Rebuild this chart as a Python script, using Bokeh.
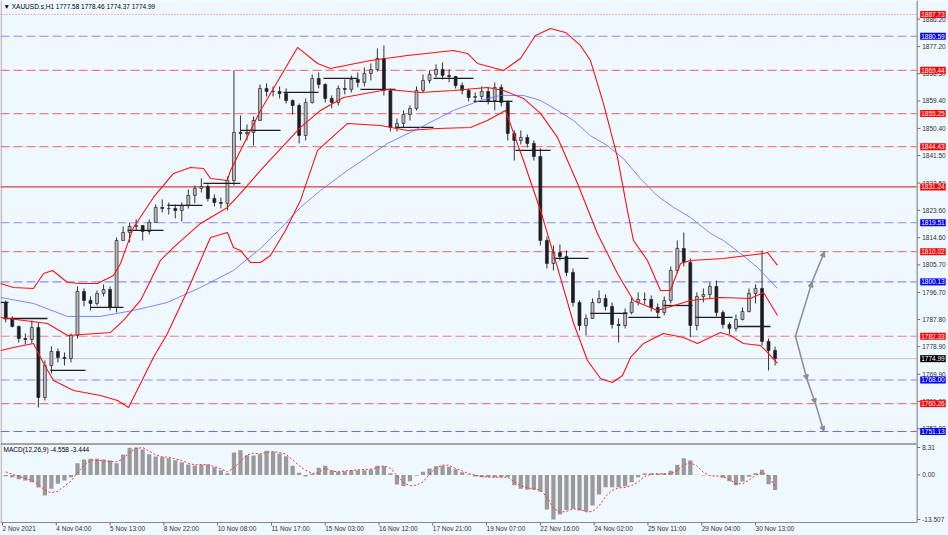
import math
from bokeh.plotting import figure
from bokeh.models import Range1d, Label, Arrow, NormalHead, ColumnDataSource
from bokeh.layouts import column
from bokeh.embed import file_html
from bokeh.resources import INLINE
from bokeh.core.properties import value

# ---------------- data ----------------
HOURS_PER_BAR = 4
first_open = 1793.40
close = [
    1788.16, 1785.53, 1781.60, 1781.27, 1785.21, 1762.28, 1772.76, 1777.34, 1775.38, 1775.05,
    1782.58, 1797.00, 1794.05, 1793.07, 1796.35, 1797.66, 1791.76, 1813.70, 1816.33, 1818.29,
    1818.62, 1816.65, 1819.60, 1824.51, 1824.19, 1824.19, 1823.53, 1825.17, 1828.45, 1830.74,
    1831.39, 1827.46, 1826.15, 1825.83, 1833.36, 1849.08, 1848.76, 1849.08, 1853.01, 1863.50,
    1862.51, 1862.51, 1861.86, 1859.56, 1857.92, 1848.10, 1858.91, 1866.77, 1864.81, 1860.22,
    1858.91, 1863.50, 1863.17, 1866.45, 1865.47, 1868.42, 1869.72, 1873.33, 1862.84, 1850.72,
    1852.03, 1854.97, 1856.94, 1862.84, 1866.12, 1868.08, 1869.72, 1867.76, 1867.43, 1864.48,
    1862.84, 1860.54, 1860.87, 1862.51, 1859.56, 1863.82, 1858.91, 1848.76, 1846.46, 1847.45,
    1845.49, 1841.23, 1813.70, 1806.17, 1809.78, 1808.47, 1803.23, 1793.40, 1785.86, 1788.16,
    1793.40, 1794.70, 1792.09, 1786.19, 1785.86, 1790.12, 1793.40, 1794.38, 1794.38, 1791.76,
    1790.12, 1794.05, 1803.88, 1811.09, 1806.50, 1785.86, 1795.36, 1796.02, 1798.64, 1790.12,
    1786.19, 1784.88, 1787.83, 1790.45, 1796.35, 1797.99, 1780.62, 1777.67, 1774.99]
high = [
    1794.05, 1788.81, 1785.86, 1783.24, 1787.50, 1786.84, 1774.40, 1778.98, 1778.33, 1777.01,
    1783.24, 1798.64, 1797.99, 1795.36, 1797.33, 1799.30, 1798.64, 1814.68, 1818.29, 1819.60,
    1820.59, 1818.62, 1820.58, 1825.50, 1827.14, 1826.15, 1825.50, 1826.15, 1830.41, 1831.72,
    1834.02, 1832.05, 1828.77, 1827.79, 1834.67, 1869.39, 1854.65, 1851.70, 1854.32, 1864.81,
    1865.14, 1864.15, 1864.15, 1863.50, 1859.89, 1858.58, 1860.22, 1868.08, 1868.74, 1865.14,
    1861.20, 1864.48, 1866.45, 1867.76, 1868.74, 1870.38, 1871.68, 1876.60, 1877.58, 1863.50,
    1853.66, 1856.29, 1857.92, 1864.15, 1868.08, 1869.39, 1871.38, 1872.00, 1869.72, 1867.43,
    1865.47, 1863.50, 1862.18, 1864.15, 1863.82, 1865.47, 1864.81, 1859.56, 1849.74, 1849.74,
    1848.43, 1846.46, 1843.84, 1815.01, 1812.06, 1812.39, 1810.43, 1804.53, 1794.05, 1789.47,
    1794.70, 1797.33, 1796.02, 1793.40, 1788.16, 1791.43, 1795.03, 1796.68, 1796.68, 1795.69,
    1793.07, 1795.36, 1805.19, 1813.70, 1816.33, 1807.81, 1796.68, 1797.99, 1799.95, 1800.60,
    1790.80, 1786.84, 1789.47, 1791.76, 1798.00, 1799.30, 1810.43, 1781.60, 1778.98]
low = [
    1786.84, 1785.21, 1780.29, 1779.64, 1779.97, 1759.01, 1761.30, 1770.14, 1773.74, 1772.76,
    1773.74, 1781.60, 1792.09, 1790.78, 1792.41, 1795.36, 1790.78, 1790.12, 1813.70, 1813.05,
    1816.98, 1813.70, 1815.67, 1819.60, 1822.88, 1822.22, 1820.91, 1819.93, 1824.19, 1825.83,
    1829.43, 1826.48, 1824.84, 1824.19, 1823.53, 1831.72, 1846.46, 1846.46, 1844.83, 1853.01,
    1860.87, 1860.87, 1860.22, 1858.58, 1855.00, 1845.49, 1846.46, 1858.50, 1863.50, 1858.91,
    1856.94, 1857.92, 1861.53, 1862.18, 1863.82, 1864.15, 1866.12, 1869.06, 1861.20, 1849.41,
    1849.41, 1850.72, 1853.01, 1856.29, 1862.18, 1865.14, 1867.09, 1866.45, 1865.47, 1863.50,
    1861.53, 1859.23, 1858.91, 1859.89, 1858.25, 1856.29, 1857.60, 1846.46, 1839.91, 1845.16,
    1844.18, 1839.91, 1812.06, 1804.53, 1803.88, 1807.15, 1801.92, 1792.09, 1784.22, 1782.58,
    1788.16, 1793.07, 1790.78, 1784.88, 1780.29, 1784.88, 1789.47, 1792.41, 1792.74, 1790.45,
    1788.16, 1789.14, 1793.07, 1802.89, 1805.19, 1782.00, 1784.22, 1793.40, 1794.70, 1788.81,
    1784.88, 1782.91, 1783.89, 1787.50, 1790.12, 1793.07, 1779.31, 1771.12, 1772.76]

macd_hist = [
    -0.38, -0.79, -1.29, -1.70, -2.20, -3.82, -6.24, -4.22, -2.71, -1.70,
    -0.69, 3.56, 4.67, 4.87, 4.87, 4.67, 4.36, 3.56, 6.18, 8.20,
    8.31, 7.70, 6.28, 5.58, 5.37, 5.07, 4.46, 3.86, 3.15, 2.85,
    3.05, 3.15, 2.34, 1.43, 0.53, 6.79, 7.49, 5.98, 5.88, 6.28,
    7.29, 6.99, 6.48, 5.68, 2.75, 0.63, -0.48, 0.32, 2.14, 2.75,
    1.43, 0.93, 1.13, 1.43, 1.43, 1.43, 1.64, 2.75, 2.65, 0.53,
    -2.91, -3.41, -1.90, -0.28, 0.93, 1.94, 2.65, 2.75, 2.44, 1.74,
    0.83, 0.12, -0.48, -0.69, -0.69, -0.69, -0.69, -0.69, -3.11, -4.22,
    -4.53, -4.53, -5.13, -10.48, -13.50, -12.00, -10.69, -10.28, -10.79, -11.09,
    -9.27, -5.94, -3.72, -3.72, -3.72, -3.41, -2.20, -0.69, 0.42, 0.53,
    0.42, 0.53, 1.23, 3.05, 5.07, 4.36, 0.02, -0.18, -0.08, -0.08,
    -0.89, -1.90, -3.11, -2.00, -0.59, 0.53, 1.54, -2.81, -4.558]
macd_signal = [
    0.93, 0.22, -0.38, -1.09, -1.70, -2.81, -4.73, -5.43, -4.93, -3.41,
    -1.90, 0.73, 2.85, 4.46, 4.46, 4.26, 4.06, 3.96, 4.87, 6.79,
    8.00, 8.30, 7.19, 6.08, 5.47, 5.37, 4.87, 4.36, 3.56, 3.05,
    3.15, 3.05, 2.55, 1.84, 0.93, 2.14, 4.06, 6.08, 6.59, 6.38,
    6.79, 7.09, 6.79, 6.28, 4.57, 2.75, 1.43, 0.42, 0.63, 2.14,
    1.13, 0.93, 1.23, 1.33, 1.54, 1.64, 1.74, 2.24, 2.75, 2.04,
    -0.18, -2.30, -3.31, -3.11, -2.10, 0.22, 2.14, 2.95, 2.95, 1.94,
    1.23, 0.42, -0.08, -0.48, -0.69, -0.69, -0.69, -0.69, -2.10, -3.31,
    -3.92, -4.22, -4.53, -6.75, -10.08, -11.29, -11.09, -10.28, -10.38, -11.19,
    -11.09, -9.37, -6.55, -4.73, -3.92, -3.82, -3.21, -2.20, -0.48, 0.22,
    0.32, 0.32, 0.32, 1.33, 3.05, 3.66, 2.75, 0.83, -0.28, -0.38,
    -0.38, -1.49, -2.61, -2.71, -1.60, -0.08, 0.73, -0.28, -3.444]

# Bollinger band lines and moving average (x in hourly bars)
upper_x = [-1.2, 6.7, 19.0, 25.2, 30.7, 39.9, 47.9, 58.3, 68.1, 72.4, 80.4, 92.6, 104.9, 115.3,
           123.3, 127.6, 138.0, 139.9, 158.3, 181.0, 193.3, 201.2, 225.8, 248.5, 276.7, 285.3,
           291.4, 307.4, 317.8, 327.0, 336.2, 345.4, 354.6, 360.7, 368.7, 377.3, 383.4, 387.1,
           395.7, 403.7, 409.8, 416.0, 422.1, 442.3, 466.9, 469.3, 475.5]
upper_y = [1799.62, 1798.31, 1797.99, 1802.90, 1803.88, 1799.95, 1799.62, 1799.62, 1802.24,
           1806.17, 1817.97, 1827.79, 1835.65, 1837.62, 1837.29, 1834.02, 1833.36, 1836.64,
           1856.29, 1876.93, 1871.68, 1870.05, 1872.67, 1874.31, 1875.94, 1874.96, 1871.68,
           1869.39, 1873.32, 1880.86, 1883.15, 1881.84, 1877.58, 1872.67, 1858.58, 1840.89,
           1823.53, 1813.70, 1807.15, 1797.33, 1797.33, 1806.17, 1807.15, 1807.81, 1809.45,
           1809.78, 1805.52]
mid_x = [-1.2, 27.6, 39.9, 66.3, 74.2, 84.7, 96.9, 104.9, 121.5, 138.0, 146.0, 158.3, 182.8,
         195.1, 209.2, 236.2, 256.4, 276.7, 297.5, 307.4, 319.6, 330.1, 340.5, 352.8, 365.0,
         377.3, 387.1, 401.8, 408.0, 422.1, 440.5, 458.9, 466.9, 475.5]
mid_y = [1788.49, 1786.52, 1782.59, 1783.57, 1787.50, 1794.05, 1807.15, 1811.42, 1819.28,
         1824.52, 1829.10, 1836.64, 1850.72, 1856.29, 1860.55, 1863.17, 1862.19, 1862.84,
         1863.82, 1862.84, 1860.22, 1855.31, 1847.45, 1832.38, 1815.96, 1802.90, 1794.05,
         1790.78, 1791.76, 1794.05, 1795.03, 1794.70, 1796.67, 1789.14]
lower_x = [-1.2, 6.7, 19.0, 25.2, 31.3, 43.6, 60.1, 70.6, 77.3, 84.7, 92.6, 101.2, 113.5,
           121.5, 127.6, 138.0, 141.7, 146.0, 152.1, 158.3, 164.4, 173.6, 182.8, 193.3, 211.7,
           231.9, 248.5, 266.9, 287.1, 297.5, 308.6, 319.6, 330.1, 340.5, 350.3, 358.9, 366.9,
           374.2, 380.4, 385.3, 393.3, 405.5, 417.8, 426.4, 440.5, 446.6, 454.6, 465.0, 469.3,
           475.5]
lower_y = [1777.68, 1778.66, 1779.97, 1773.42, 1767.85, 1764.57, 1762.94, 1761.30, 1759.01,
           1766.87, 1775.37, 1783.24, 1797.33, 1807.15, 1814.69, 1816.33, 1811.41, 1810.43,
           1806.50, 1806.50, 1808.79, 1816.98, 1826.81, 1843.19, 1852.03, 1851.38, 1849.74,
           1850.39, 1850.72, 1853.01, 1856.29, 1839.91, 1823.53, 1804.86, 1786.66, 1774.40,
           1768.50, 1767.19, 1769.49, 1775.37, 1779.96, 1783.24, 1781.93, 1779.96, 1783.57,
           1782.58, 1779.96, 1779.31, 1777.03, 1773.42]
ma_x = [-1.2, 19.0, 39.9, 60.1, 80.4, 101.2, 121.5, 141.7, 158.3, 170.6, 182.8, 195.1, 211.7,
        236.2, 256.4, 276.7, 293.3, 305.5, 319.6, 330.1, 340.5, 350.3, 360.7, 371.2, 381.0,
        391.4, 401.8, 411.7, 422.1, 434.4, 442.3, 452.8, 463.2, 475.5]
ma_y = [1795.04, 1793.07, 1788.81, 1788.81, 1790.78, 1793.40, 1798.31, 1803.88, 1811.09,
        1817.64, 1824.52, 1830.09, 1836.64, 1845.48, 1850.72, 1856.29, 1859.56, 1861.20,
        1861.20, 1859.56, 1856.29, 1853.01, 1848.03, 1844.76, 1840.50, 1833.95, 1828.30,
        1824.52, 1821.24, 1816.00, 1813.70, 1809.45, 1804.86, 1797.99]

# daily open segments
day_start = [-1.2, 0.6, 29.4, 54.0, 76.7, 101.2, 123.3, 146.0, 172.4, 196.9, 219.6, 241.1,
             264.4, 289.0, 314.7, 338.0, 360.7, 384.0, 405.5, 425.2, 450.9]
day_end = [3.7, 27.6, 50.9, 74.2, 98.8, 122.7, 146.0, 170.6, 193.9, 217.8, 241.1, 264.4,
           289.0, 312.9, 336.2, 359.5, 383.4, 403.7, 423.3, 447.9, 471.2]
day_open = [1793.40, 1788.15, 1771.12, 1791.76, 1816.98, 1825.17, 1832.37, 1849.73, 1862.18,
            1866.77, 1863.16, 1850.72, 1866.77, 1859.23, 1843.18, 1807.81, 1789.79, 1788.48,
            1792.40, 1788.48, 1785.53]

# horizontal levels
level_values = [1887.73, 1880.59, 1869.44, 1855.25, 1844.43, 1831.24, 1819.51, 1810.02,
                1800.13, 1782.33, 1768.00, 1760.26, 1751.13]
level_kind = ["res_dot", "sup", "res", "res", "res", "res_solid", "sup", "res",
              "sup", "res", "sup", "res", "sup_strong"]
last_price = 1774.99

# projected paths
up_path_x = [486.5, 496.7, 504.3]
up_path_y = [1782.33, 1800.13, 1810.02]
down_path_x = [486.5, 493.7, 498.8, 503.9]
down_path_y = [1782.33, 1768.00, 1760.26, 1751.13]

price_ticks = [1886.20, 1877.20, 1868.30, 1859.40, 1850.40, 1841.50, 1832.50, 1823.60,
               1814.60, 1805.70, 1796.70, 1787.80, 1778.90, 1769.90, 1761.00, 1752.00]
macd_ticks = [8.31, 0.0, -13.507]
macd_tick_labels = ["8.31", "0.00", "-13.507"]
date_ticks = [0, 33, 66, 99, 132, 165, 198, 231, 264, 297, 330, 363, 396, 429, 462]
date_labels = ["2 Nov 2021", "4 Nov 04:00", "5 Nov 13:00", "8 Nov 22:00", "10 Nov 08:00",
               "11 Nov 17:00", "15 Nov 03:00", "16 Nov 12:00", "17 Nov 21:00", "19 Nov 07:00",
               "22 Nov 16:00", "24 Nov 02:00", "25 Nov 11:00", "29 Nov 04:00", "30 Nov 13:00"]
title_text = "\u25bc XAUUSD.s,H1  1777.58 1778.46 1774.37 1774.99"
macd_text = "MACD(12,26,9) -4.558 -3.444"

# ---------------- layout / styling ----------------
BG = "#f0f8ff"
FONT = "Liberation Sans"
FS = "6.5px"
W = 948
H_MAIN = 443
H_MACD = 92
X_START, X_END = -1.23, 580.4     # full canvas width, incl. the price scale strip
AXIS_X = 561.2                    # position of the price scale line
MACD_BOTTOM = -14.42              # lower edge of the MACD pane (date strip below)

level_style = {
    "res_dot": dict(line_color="#f07070", line_dash="1 2", line_width=1),
    "res": dict(line_color="#f08080", line_dash="9 4", line_width=1.2),
    "res_solid": dict(line_color="#e03c3c", line_dash="solid", line_width=1.2),
    "sup": dict(line_color="#8a8aff", line_dash="9 4", line_width=1.2),
    "sup_strong": dict(line_color="#6a6aff", line_dash="9 4", line_width=1.2),
}
label_bg = {"res_dot": "#ff0000", "res": "#ff0000", "res_solid": "#ff0000",
            "sup": "#0000ff", "sup_strong": "#0000ff"}

n = len(close)
bar_x = [HOURS_PER_BAR * i + HOURS_PER_BAR / 2 for i in range(n)]
open_ = [first_open] + close[:-1]
top = [max(o, c) for o, c in zip(open_, close)]
bottom = [min(o, c) for o, c in zip(open_, close)]
fill = ["#b8b8b8" if c >= o else "#1c1c1c" for o, c in zip(open_, close)]

xr = Range1d(X_START, X_END)
y_main = Range1d(1747.2, 1892.3)
y_macd = Range1d(-18.36, 9.52)

common = dict(x_range=xr, x_axis_location=None, y_axis_location=None, toolbar_location=None,
              output_backend="svg", min_border=0, background_fill_color=BG,
              border_fill_color=BG, outline_line_color=None)

p = figure(width=W, height=H_MAIN, y_range=y_main, **common)
p.grid.visible = False

# left window edge
p.segment(x0=[X_START + 0.4], y0=[y_main.start], x1=[X_START + 0.4], y1=[y_main.end],
          line_color="#c4c4c4", line_width=2)

# levels (stop at the price scale)
for v, k in zip(level_values, level_kind):
    p.segment(x0=[X_START], y0=[v], x1=[AXIS_X], y1=[v], **level_style[k])
p.segment(x0=[X_START], y0=[last_price], x1=[AXIS_X], y1=[last_price],
          line_color="#c8c8c8", line_width=1)

# candles
src = ColumnDataSource(dict(x=bar_x, high=high, low=low, top=top, bottom=bottom, fill=fill))
p.segment(x0="x", y0="low", x1="x", y1="high", line_color="#333333", line_width=1, source=src)
p.vbar(x="x", width=1.8, top="top", bottom="bottom", fill_color="fill",
       line_color="#262626", line_width=0.7, source=src)

# daily open segments
p.segment(x0=day_start, y0=day_open, x1=day_end, y1=day_open, line_color="#1e1e1e", line_width=1.3)

# indicators
p.line(ma_x, ma_y, line_color="#6e6eff", line_width=1, line_alpha=0.85)
p.line(upper_x, upper_y, line_color="#ff1010", line_width=1.1)
p.line(mid_x, mid_y, line_color="#ff1010", line_width=1.1)
p.line(lower_x, lower_y, line_color="#ff1010", line_width=1.1)

# projection arrows
ARROW = "#8c8c8c"
for px_, py_ in ((up_path_x, up_path_y), (down_path_x, down_path_y)):
    for i in range(len(px_) - 1):
        p.add_layout(Arrow(end=NormalHead(size=5, fill_color=ARROW, line_color=ARROW),
                           x_start=px_[i], y_start=py_[i], x_end=px_[i + 1], y_end=py_[i + 1],
                           line_color=ARROW, line_width=1.5))

# price scale
p.segment(x0=[AXIS_X], y0=[y_main.start], x1=[AXIS_X], y1=[y_main.end],
          line_color="#a0a0a0", line_width=1.5)
p.ray(x=[AXIS_X] * len(price_ticks), y=price_ticks, length=3, length_units="screen",
      angle=0, line_color="#707070", line_width=1)
p.text(x=[AXIS_X] * len(price_ticks), y=price_ticks, text=[f"{t:.2f}" for t in price_ticks],
       x_offset=5, text_baseline="middle", text_align="left", text_font=value(FONT),
       text_font_size=FS, text_color="#303030")

lab_src = ColumnDataSource(dict(
    x=[AXIS_X] * (len(level_values) + 1),
    y=level_values + [last_price],
    text=[f"{v:.2f}" for v in level_values] + [f"{last_price:.2f}"],
    bg=[label_bg[k] for k in level_kind] + ["#000000"]))
p.text(x="x", y="y", text="text", source=lab_src, x_offset=3, text_baseline="middle",
       text_align="left", text_font=value(FONT), text_font_size=FS, text_color="white",
       background_fill_color="bg", padding=1)

p.add_layout(Label(x=X_START, y=y_main.end, x_offset=3, y_offset=-2, text=title_text,
                   text_font=FONT, text_font_size=FS, text_color="#000000",
                   text_baseline="top", text_align="left"))

# ---------------- MACD pane ----------------
m = figure(width=W, height=H_MACD, y_range=y_macd, **common)
m.grid.visible = False
m.segment(x0=[X_START + 0.4], y0=[MACD_BOTTOM], x1=[X_START + 0.4], y1=[y_macd.end],
          line_color="#c4c4c4", line_width=2)
m.vbar(x=bar_x, top=macd_hist, bottom=0, width=2.6, fill_color="#9a9a9a", line_color=None)
m.line(bar_x, macd_signal, line_color="#ff3030", line_dash="2 2", line_width=1)

# pane borders
m.segment(x0=[X_START], y0=[y_macd.end], x1=[AXIS_X], y1=[y_macd.end],
          line_color="#505050", line_width=2)
m.segment(x0=[X_START], y0=[MACD_BOTTOM], x1=[AXIS_X], y1=[MACD_BOTTOM],
          line_color="#8a8a8a", line_width=1.2)
m.segment(x0=[AXIS_X], y0=[MACD_BOTTOM], x1=[AXIS_X], y1=[y_macd.end],
          line_color="#a0a0a0", line_width=1.5)

# MACD scale
m.ray(x=[AXIS_X] * 3, y=macd_ticks, length=3, length_units="screen", angle=0,
      line_color="#707070", line_width=1)
m.text(x=[AXIS_X] * 3, y=macd_ticks, text=macd_tick_labels, x_offset=5,
       text_baseline="middle", text_align="left", text_font=value(FONT),
       text_font_size=FS, text_color="#303030")

# time scale
m.ray(x=date_ticks, y=[MACD_BOTTOM] * len(date_ticks), length=3, length_units="screen",
      angle=-math.pi / 2, line_color="#707070", line_width=1)
m.text(x=date_ticks, y=[MACD_BOTTOM] * len(date_ticks), text=date_labels, y_offset=3,
       text_baseline="top", text_align="left", text_font=value(FONT),
       text_font_size=FS, text_color="#303030")

m.add_layout(Label(x=X_START, y=y_macd.end, x_offset=3, y_offset=-2, text=macd_text,
                   text_font=FONT, text_font_size=FS, text_color="#000000",
                   text_baseline="top", text_align="left"))

layout = column(p, m, spacing=0)
open("out.html", "w").write(file_html(layout, INLINE))
